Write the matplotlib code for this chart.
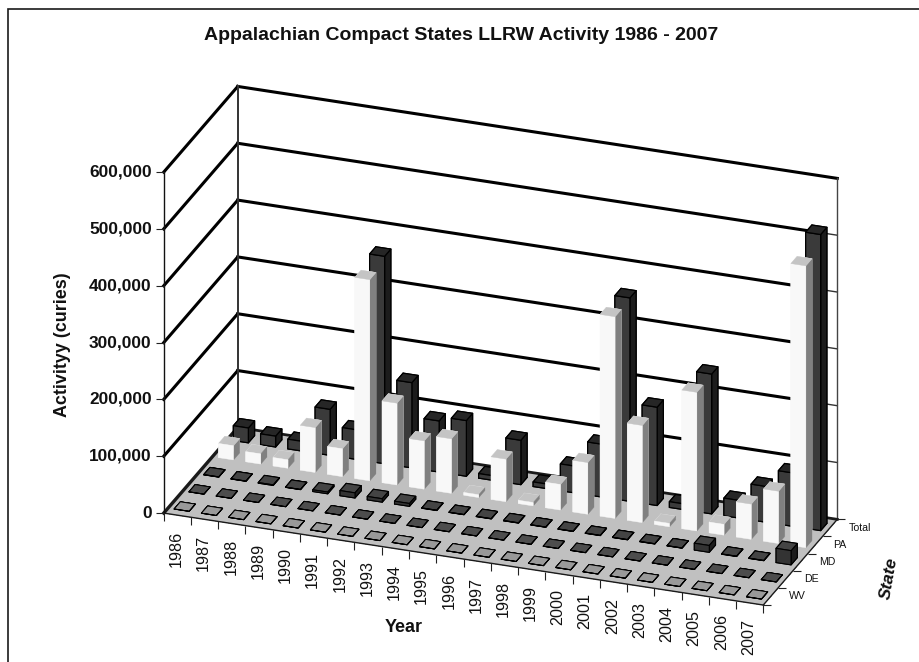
#!/usr/bin/python
# -*- coding: utf-8 -*-
"""
Appalachian Compact States LLRW activity, 3D bars by year and state.
Orthographic mplot3d view, bars drawn back to front one at a time.
"""
import numpy as np
from matplotlib import pyplot as plt
from matplotlib.patches import Rectangle
from matplotlib.transforms import offset_copy

YEARS = [str(y) for y in range(1986, 2008)]
STATES = ['WV', 'DE', 'MD', 'PA', 'Total']
ZTICKS = [0, 100000, 200000, 300000, 400000, 500000, 600000]

WV = [150, 100, 120, 150, 100, 150, 120, 100, 150, 120, 100,
      100, 120, 100, 150, 100, 120, 100, 120, 100, 100, 120]
DE = [200, 150, 150, 200, 150, 200, 150, 200, 150, 200, 150,
      200, 200, 150, 200, 150, 200, 150, 200, 150, 200, 150]
MD = [300, 300, 1000, 300, 3000, 9000, 6000, 5000, 500, 300, 400,
      400, 300, 300, 400, 300, 400, 300, 12000, 500, 400, 25000]
PA = [25000, 18000, 15000, 79000, 49000, 354000, 144000, 85000, 96000, 5000, 75000,
      6000, 45000, 91000, 355000, 171000, 6000, 244000, 19000, 62000, 92000, 496000]
TOTAL = [26000, 19000, 17000, 81000, 52000, 365000, 150000, 90000, 98000, 8000, 78000,
         8000, 47000, 93000, 358000, 173000, 10000, 246000, 31000, 63000, 94000, 521000]

# faces in bar3d order: bottom, top, front, back, left, right
DARK = ['#333333', '#262626', '#3a3a3a', '#333333', '#333333', '#1c1c1c']
LIGHT = ['#c0c0c0', '#c4c4c4', '#f8f8f8', '#f8f8f8', '#f8f8f8', '#808080']
STYLES = {
    'WV': (['#999999'] * 6, 'black', 0.7),
    'DE': (['#4d4d4d'] * 6, 'black', 0.7),
    'MD': (['#444444', '#444444', '#333333', '#333333', '#333333', '#1c1c1c'], 'black', 0.8),
    'PA': (LIGHT, LIGHT, 0.3),
    'Total': (DARK, 'black', 0.9),
}
ROWS = {'WV': WV, 'DE': DE, 'MD': MD, 'PA': PA, 'Total': TOTAL}

BAR_W = 0.55
BAR_D = 0.42

plt.rcParams['font.family'] = ['Liberation Sans', 'DejaVu Sans']
fig = plt.figure(figsize=(9.2, 6.62), dpi=100)

# chart frame runs off the right and bottom of the picture
fig.add_artist(Rectangle((8 / 920, -0.05), 1.0, 1.05 - 9 / 662, transform=fig.transFigure,
                         fill=False, edgecolor='#1a1a1a', linewidth=1.2))

# square axes bigger than the figure, box centre lands on the chart centre
SIDE = 1000.0
left = 500.5 - 0.5135 * SIDE
bottom = 316.25 - 0.5135 * SIDE
ax = fig.add_axes([left / 920, bottom / 662, SIDE / 920, SIDE / 662], projection='3d',
                  proj_type='ortho', computed_zorder=False)
ax.view_init(elev=24.92, azim=-70.0)
ax.set_box_aspect((638.1, 216.4, 376.0), zoom=749.0 / SIDE)
ax.patch.set_alpha(0)
ax.set_axis_off()

nyears = len(YEARS)
nstates = len(STATES)
top = ZTICKS[-1]

# walls and floor
ax.plot_surface(np.array([[0, nyears], [0, nyears]]), np.array([[0, 0], [nstates, nstates]]),
                np.zeros((2, 2)), color='#c0c0c0', shade=False, linewidth=0,
                antialiased=False, zorder=1)
ax.plot([0, 0], [0, nstates], [0, 0], color='#1a1a1a', lw=2.4, zorder=3)
ax.plot([0, nyears], [nstates, nstates], [0, 0], color='#1a1a1a', lw=2.0, zorder=3)
ax.plot([0, nyears], [0, 0], [0, 0], color='#1a1a1a', lw=1.0, zorder=3)
ax.plot([nyears, nyears], [0, nstates], [0, 0], color='#1a1a1a', lw=1.0, zorder=3)
for z in ZTICKS[1:]:
    # past the last bar the gridlines go thin, only the top one stays heavy
    stop = nyears if z == top else nyears - 0.6
    ax.plot([0, 0], [0, nstates], [z, z], color='black', lw=2.2, zorder=2)
    ax.plot([0, stop], [nstates, nstates], [z, z], color='black', lw=2.2, zorder=2)
    ax.plot([stop, nyears], [nstates, nstates], [z, z], color='#333333', lw=1.0, zorder=2)
ax.plot([0, 0], [0, 0], [0, top], color='#111111', lw=1.0, zorder=3)
ax.plot([0, 0], [nstates, nstates], [0, top], color='#333333', lw=1.4, zorder=3)
ax.plot([nyears, nyears], [nstates, nstates], [0, top], color='#444444', lw=1.0, zorder=2)

# ticks
ax.plot([0] * len(ZTICKS), [0] * len(ZTICKS), ZTICKS, ls='none', marker=0, ms=6, mew=0.8,
        color='#222222', zorder=4)
ax.plot(list(range(nyears + 1)), [0] * (nyears + 1), [0] * (nyears + 1), ls='none', marker=3,
        ms=6, mew=0.8, color='#222222', zorder=4)
ax.plot([nyears] * (nstates + 1), list(range(nstates + 1)), [0] * (nstates + 1), ls='none',
        marker=1, ms=6, mew=0.8, color='#222222', zorder=4)

# bars, back row first and left to right inside a row
for r in range(nstates - 1, -1, -1):
    state = STATES[r]
    faces, edge, lw = STYLES[state]
    for i, val in enumerate(ROWS[state]):
        ax.bar3d(i + 0.5 - BAR_W / 2, r + 0.5 - BAR_D / 2, 0, BAR_W, BAR_D, val, color=faces,
                 shade=False, edgecolor=edge, linewidth=lw,
                 zorder=10 + (nstates - r) * 100 + i)

ax.set_xlim(0, nyears)
ax.set_ylim(0, nstates)
ax.set_zlim(0, top)


def shifted(dx, dy):
    """ transData moved by some pixels, for labels next to the axes """
    return offset_copy(ax.transData, fig=fig, x=dx, y=dy, units='dots')


for z in ZTICKS:
    ax.text(0, 0, z, f'{z:,}', ha='right', va='center', fontsize=12.4, fontweight='bold',
            color='#111111', transform=shifted(-12, 0), zorder=2000)
for i, year in enumerate(YEARS):
    # zdir='z' is what turns a 3D text upright
    ax.text(i + 0.5, 0, 0, year, zdir='z', ha='center', va='top', rotation_mode='default',
            fontsize=11.6, color='#111111', transform=shifted(-1, -15.5), zorder=2000)
for r, state in enumerate(STATES):
    ax.text(nyears, r + 0.5, 0, state, ha='left', va='center', fontsize=7.6,
            color='#111111', transform=shifted(18.5, 0), zorder=2000)

fig.text(461 / 920, 1 - 36 / 662, 'Appalachian Compact States LLRW Activity 1986 - 2007',
         ha='center', va='center', fontsize=14, fontweight='bold', color='#111111')
fig.text(63 / 920, 1 - 345 / 662, 'Activityy (curies)', rotation=90, ha='center', va='center',
         fontsize=12.9, fontweight='bold', color='#111111')
fig.text(404 / 920, 1 - 627 / 662, 'Year', ha='center', va='center',
         fontsize=13, fontweight='bold', color='#111111')
fig.text(889 / 920, 1 - 578 / 662, 'State', rotation=80, ha='center', va='center',
         fontsize=12.5, fontweight='bold', fontstyle='italic', color='#111111')

fig.savefig('out.png', dpi=100)
